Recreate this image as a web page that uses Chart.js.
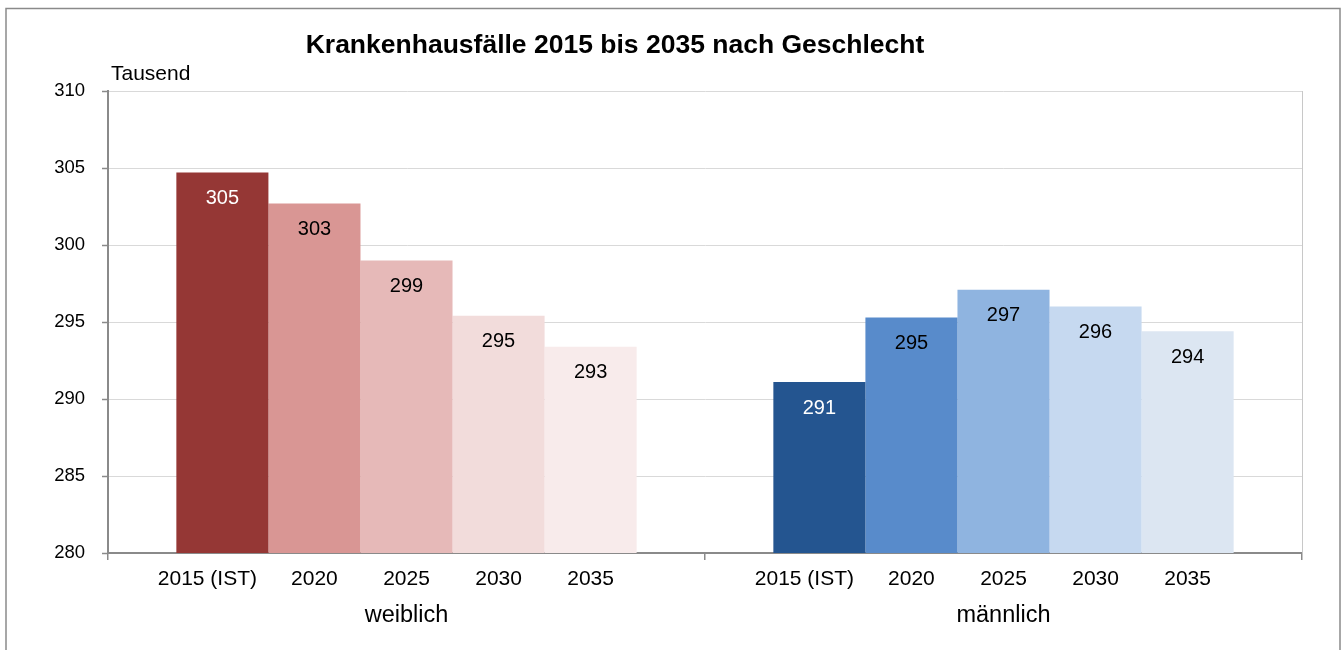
<!DOCTYPE html>
<html>
<head>
<meta charset="utf-8">
<script src="https://cdn.jsdelivr.net/npm/chart.js@4.4.1/dist/chart.umd.min.js"></script>
<style>
  html, body { margin: 0; padding: 0; background: #fff; }
  #wrap { width: 1343px; height: 650px; position: relative; }
</style>
</head>
<body>
<div id="wrap"><canvas id="c" width="1343" height="650"></canvas></div>
<script>
const categories = ['weiblich', 'männlich'];
const years = ['2015 (IST)', '2020', '2025', '2030', '2035'];
const weiblich = [304.7, 302.7, 299.0, 295.4, 293.4];
const maennlich = [291.1, 295.3, 297.1, 296.0, 294.4];
const yTicks = { min: 280, max: 310, step: 5 };
const colorsWeiblich = ['#953735', '#D99694', '#E6B9B8', '#F2DCDB', '#F8EBEB'];
const colorsMaennlich = ['#245590', '#588BCB', '#8FB4E0', '#C6D9F0', '#DCE6F2'];
const titleText = 'Krankenhausfälle 2015 bis 2035 nach Geschlecht';
const unitText = 'Tausend';

const FONT = '"Liberation Sans", Arial, sans-serif';

const datasets = years.map((y, i) => ({
  label: y,
  data: [weiblich[i], maennlich[i]],
  backgroundColor: [colorsWeiblich[i], colorsMaennlich[i]],
  borderWidth: 0,
  categoryPercentage: 0.771,
  barPercentage: 1.0
}));

const decor = {
  id: 'decor',
  beforeDraw(chart) {
    const ctx = chart.ctx;
    ctx.save();
    ctx.fillStyle = '#ffffff';
    ctx.fillRect(0, 0, chart.width, chart.height);
    ctx.strokeStyle = '#8a8a8a';
    ctx.lineWidth = 1.5;
    ctx.strokeRect(6, 8.5, 1334, 700);
    ctx.restore();
  },
  afterDatasetsDraw(chart) {
    const ctx = chart.ctx;
    ctx.save();
    ctx.font = '20px ' + FONT;
    ctx.textAlign = 'center';
    ctx.textBaseline = 'middle';
    chart.data.datasets.forEach((ds, i) => {
      const meta = chart.getDatasetMeta(i);
      meta.data.forEach((bar, j) => {
        ctx.fillStyle = i === 0 ? '#ffffff' : '#000000';
        ctx.fillText(String(Math.round(ds.data[j])), bar.x, bar.y + 26);
      });
    });
    ctx.restore();
  },
  afterDraw(chart) {
    const ctx = chart.ctx;
    const area = chart.chartArea;
    const xs = chart.scales.x;
    ctx.save();
    // right plot border
    ctx.strokeStyle = '#c8c8c8';
    ctx.lineWidth = 1;
    ctx.beginPath();
    ctx.moveTo(Math.round(area.right) + 0.5, area.top);
    ctx.lineTo(Math.round(area.right) + 0.5, area.bottom);
    ctx.stroke();
    // year labels
    ctx.fillStyle = '#000';
    ctx.textAlign = 'center';
    ctx.textBaseline = 'alphabetic';
    ctx.font = '21px ' + FONT;
    chart.data.datasets.forEach((ds, i) => {
      const meta = chart.getDatasetMeta(i);
      meta.data.forEach((bar) => {
        const off = i === 0 ? -15 : 0;
        ctx.fillText(ds.label, bar.x + off, 585);
      });
    });
    // group labels
    ctx.font = '23.5px ' + FONT;
    categories.forEach((c, j) => {
      ctx.fillText(c, xs.getPixelForValue(j), 622);
    });
    // title
    ctx.font = 'bold 26.5px ' + FONT;
    ctx.fillText(titleText, 615, 53);
    // unit
    ctx.font = '21px ' + FONT;
    ctx.textAlign = 'left';
    ctx.fillText(unitText, 111, 80);
    ctx.restore();
  }
};

new Chart(document.getElementById('c'), {
  type: 'bar',
  data: { labels: categories, datasets },
  options: {
    responsive: false,
    animation: false,
    events: [],
    layout: { padding: { left: 8, right: 41, top: 91, bottom: 0 } },
    plugins: { legend: { display: false }, title: { display: false }, tooltip: { enabled: false } },
    scales: {
      x: {
        offset: true,
        ticks: { display: false },
        grid: { display: true, drawOnChartArea: false, offset: true, tickLength: 7, color: '#8a8a8a', lineWidth: 1.5 },
        border: { color: '#8a8a8a', width: 2 },
        afterFit(s) { s.height = 97; }
      },
      y: {
        min: yTicks.min,
        max: yTicks.max,
        ticks: { stepSize: yTicks.step, color: '#000', font: { family: FONT, size: 18.5 }, padding: 17 },
        grid: { color: '#d9d9d9', lineWidth: 1, tickLength: 6, tickColor: '#8a8a8a', tickWidth: 1.5 },
        border: { color: '#8a8a8a', width: 2 },
        afterFit(s) { s.width = 100; }
      }
    }
  },
  plugins: [decor]
});
</script>
</body>
</html>
